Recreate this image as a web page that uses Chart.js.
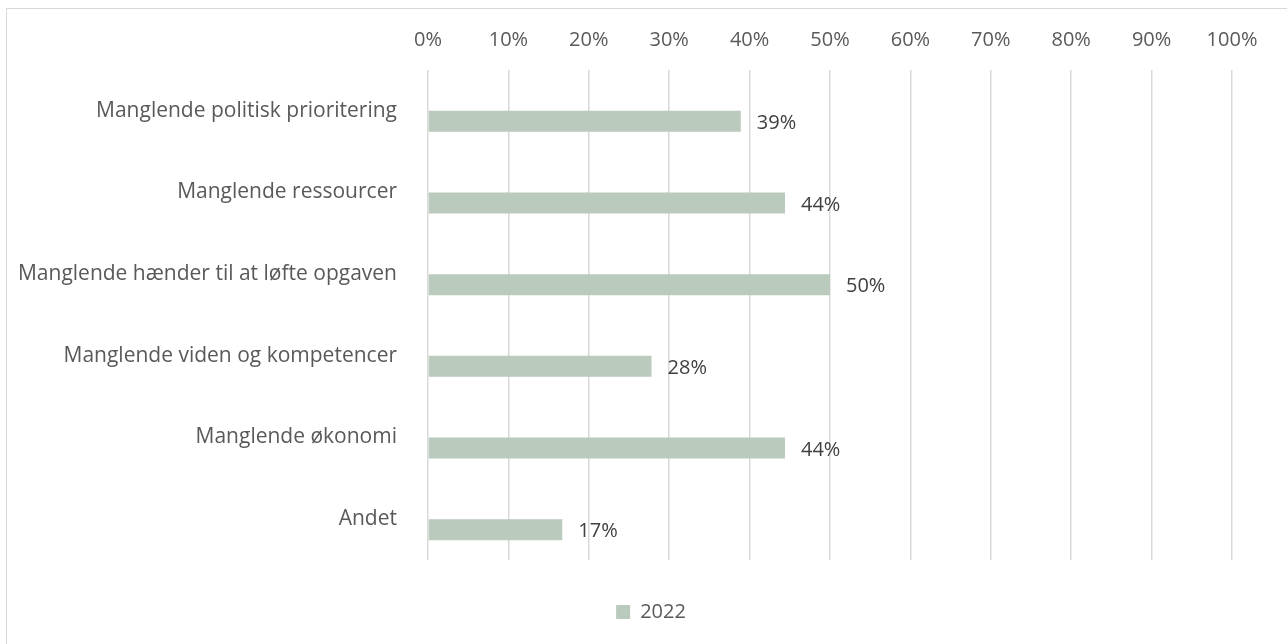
<!DOCTYPE html>
<html>
<head>
<meta charset="utf-8">
<script src="https://cdn.jsdelivr.net/npm/chart.js@4/dist/chart.umd.min.js"></script>
<style>
  html, body { margin: 0; padding: 0; background: #fff; overflow: hidden; }
  #frame { position: absolute; left: 6px; top: 8px; width: 1400px; height: 800px; border: 1px solid #d9d9d9; }
  #wrap { position: absolute; left: 0; top: 0; width: 1287px; height: 644px; }
</style>
</head>
<body>
<div id="frame"></div>
<div id="wrap"><canvas id="bar-chart"></canvas></div>
<script>
var categories = [
  'Manglende politisk prioritering',
  'Manglende ressourcer',
  'Manglende hænder til at løfte opgaven',
  'Manglende viden og kompetencer',
  'Manglende økonomi',
  'Andet'
];
var values2022 = [38.9, 44.4, 50.0, 27.8, 44.4, 16.7];
var emptySeries = [null, null, null, null, null, null];
var seriesLabel = '2022';

var textGrey = '#595959';
var fontFam = "'Open Sans', sans-serif";

// data labels to the right of each bar
var valueLabels = {
  id: 'valueLabels',
  afterDatasetsDraw: function(chart) {
    var ctx = chart.ctx;
    var meta = chart.getDatasetMeta(1);
    ctx.save();
    ctx.font = '20px ' + fontFam;
    ctx.fillStyle = '#404040';
    ctx.textBaseline = 'middle';
    ctx.textAlign = 'left';
    meta.data.forEach(function(bar, i) {
      ctx.fillText(Math.round(values2022[i]) + '%', bar.x + 16, bar.y + 2);
    });
    ctx.restore();
  }
};

new Chart(document.getElementById('bar-chart'), {
  type: 'bar',
  data: {
    labels: categories,
    datasets: [{
      label: '',
      data: emptySeries,
      backgroundColor: 'rgba(0,0,0,0)'
    }, {
      label: seriesLabel,
      data: values2022,
      backgroundColor: '#bacabc',
      borderWidth: 0
    }]
  },
  options: {
    indexAxis: 'y',
    responsive: true,
    maintainAspectRatio: false,
    animation: false,
    datasets: { bar: { categoryPercentage: 0.514, barPercentage: 1.0 } },
    layout: { padding: { left: 15, right: 0, top: 0, bottom: 12 } },
    scales: {
      x: {
        position: 'top',
        min: 0,
        max: 100,
        ticks: {
          stepSize: 10,
          padding: 18,
          color: textGrey,
          font: { family: fontFam, size: 20 },
          callback: function(v) { return v + '%'; }
        },
        grid: { color: '#d9d9d9', lineWidth: 1.5, drawTicks: false },
        border: { display: false },
        afterFit: function(s) { s.height = 70; }
      },
      y: {
        ticks: {
          padding: 23,
          color: textGrey,
          font: { family: fontFam, size: 21 }
        },
        grid: { display: false },
        border: { display: false },
        afterFit: function(s) { s.width = 413; }
      },
      yRight: {
        type: 'category',
        position: 'right',
        ticks: { display: false },
        grid: { display: false },
        border: { display: false },
        afterFit: function(s) { s.width = 55; }
      }
    },
    plugins: {
      legend: {
        position: 'bottom',
        labels: {
          padding: 42,
          boxWidth: 14,
          boxHeight: 14,
          color: textGrey,
          font: { family: fontFam, size: 20 },
          filter: function(item) { return item.text === seriesLabel; }
        }
      },
      tooltip: { enabled: false }
    }
  },
  plugins: [valueLabels]
});
</script>
</body>
</html>
